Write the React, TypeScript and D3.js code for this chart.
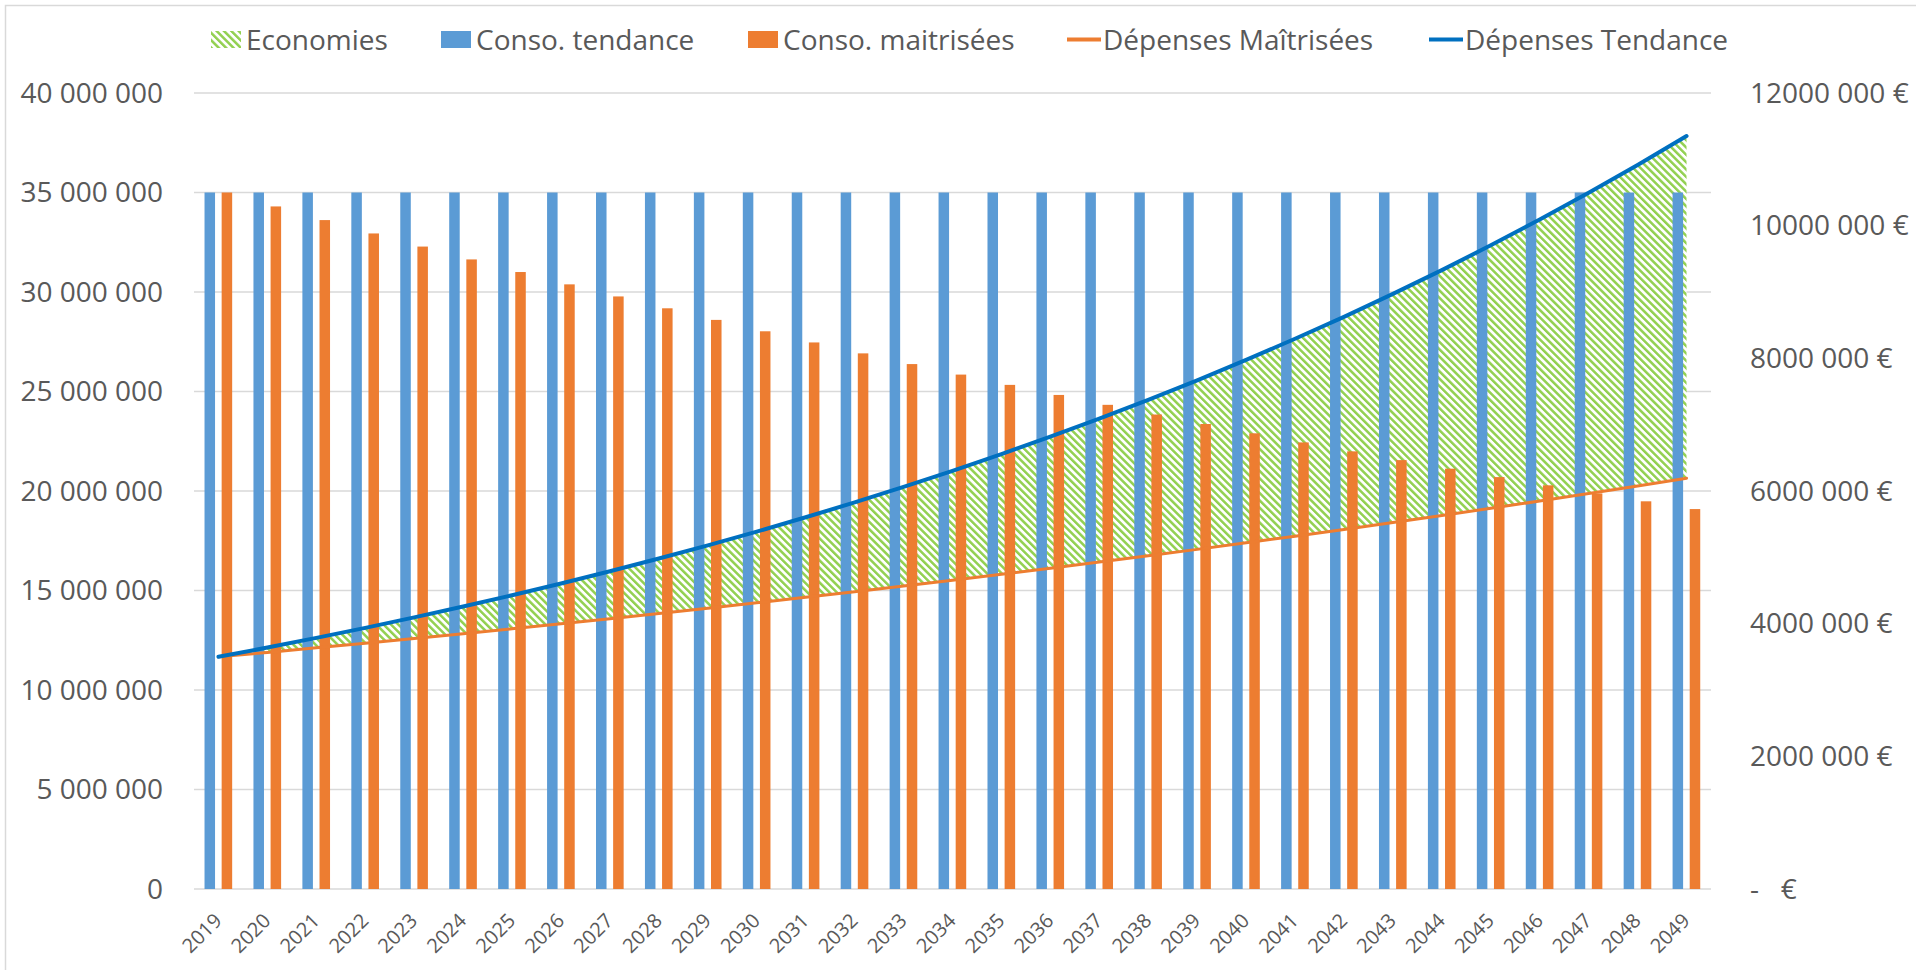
import * as d3 from "d3";

// categories
const years = [
  "2019", "2020", "2021", "2022", "2023", "2024", "2025", "2026", "2027", "2028",
  "2029", "2030", "2031", "2032", "2033", "2034", "2035", "2036", "2037", "2038",
  "2039", "2040", "2041", "2042", "2043", "2044", "2045", "2046", "2047", "2048", "2049",
];

// bars, left axis
const consoTendance = [
  35000000, 35000000, 35000000, 35000000, 35000000, 35000000, 35000000, 35000000,
  35000000, 35000000, 35000000, 35000000, 35000000, 35000000, 35000000, 35000000,
  35000000, 35000000, 35000000, 35000000, 35000000, 35000000, 35000000, 35000000,
  35000000, 35000000, 35000000, 35000000, 35000000, 35000000, 35000000,
];
const consoMaitrisees = [
  35000000, 34300000, 33614000, 32942000, 32283000, 31637000, 31004000, 30384000,
  29777000, 29181000, 28598000, 28026000, 27465000, 26916000, 26378000, 25850000,
  25333000, 24827000, 24330000, 23843000, 23367000, 22899000, 22441000, 21992000,
  21552000, 21121000, 20699000, 20285000, 19879000, 19482000, 19092000,
];

// lines, right axis
const depensesTendance = [
  3500000, 3640000, 3786000, 3937000, 4095000, 4258000, 4429000, 4606000,
  4790000, 4982000, 5181000, 5388000, 5604000, 5828000, 6061000, 6303000,
  6556000, 6818000, 7090000, 7374000, 7669000, 7976000, 8295000, 8626000,
  8972000, 9330000, 9704000, 10092000, 10495000, 10915000, 11352000,
];
const depensesMaitrisees = [
  3500000, 3567000, 3636000, 3706000, 3777000, 3849000, 3923000, 3998000,
  4075000, 4154000, 4233000, 4314000, 4397000, 4482000, 4568000, 4655000,
  4745000, 4836000, 4928000, 5023000, 5120000, 5219000, 5319000, 5420000,
  5525000, 5631000, 5739000, 5849000, 5961000, 6075000, 6193000,
];

const leftTicks = [0, 5000000, 10000000, 15000000, 20000000, 25000000, 30000000, 35000000, 40000000];
const rightTicks = [0, 2000000, 4000000, 6000000, 8000000, 10000000, 12000000];

const legendLabels = ["Economies", "Conso. tendance", "Conso. maitrisées", "Dépenses Maîtrisées", "Dépenses Tendance"];
const legendX = [211, 441, 748, 1067, 1429];

const W = 1916;
const H = 970;
const plot = { left: 194, right: 1711, top: 93, bottom: 889 };
const FONT = "'Open Sans', sans-serif";
const TXT = "#595959";
const GRID = "#d9d9d9";
const BLUE_BAR = "#5b9bd5";
const ORANGE = "#ed7d31";
const BLUE_LINE = "#0070c0";
const GREEN = "#92d050";

const fmtLeft = (v: number) => d3.format(",")(v).replace(/,/g, " ");
const fmtRight = (v: number) => {
  if (v === 0) return "-   €";
  const k = Math.floor(v / 1000);
  return `${k} ${String(v % 1000).padStart(3, "0")} €`;
};

export default function App() {
  const x = d3.scaleBand<string>().domain(years).range([plot.left, plot.right]);
  const yL = d3.scaleLinear().domain([0, 40000000]).range([plot.bottom, plot.top]);
  const yR = d3.scaleLinear().domain([0, 12000000]).range([plot.bottom, plot.top]);
  const bw = x.bandwidth();
  const cx = (i: number) => (x(years[i]) as number) + bw / 2;

  const lineFn = d3
    .line<number>()
    .x((_, i) => cx(i))
    .y((d) => yR(d));
  const areaFn = d3
    .area<number>()
    .x((_, i) => cx(i))
    .y0((_, i) => yR(depensesMaitrisees[i]))
    .y1((d) => yR(d));

  const barW = bw * 0.215;

  return (
    <svg
      width={W}
      height={H}
      style={{ position: "absolute", left: 0, top: 0, display: "block", background: "#fff" }}
      fontFamily={FONT}
    >
      <defs>
        <pattern id="hatch" patternUnits="userSpaceOnUse" width={5.2} height={5.2} patternTransform="rotate(-45)">
          <rect width={5.2} height={5.2} fill="#fff" />
          <rect width={2.5} height={5.2} fill={GREEN} />
        </pattern>
      </defs>

      <rect x={5.5} y={5.5} width={W + 10} height={H + 10} fill="none" stroke={GRID} strokeWidth={1.5} />

      {/* gridlines */}
      {leftTicks.map((t) => (
        <line key={t} x1={plot.left} x2={plot.right} y1={yL(t)} y2={yL(t)} stroke={GRID} strokeWidth={1.5} />
      ))}

      {/* economies area */}
      <path d={areaFn(depensesTendance) || ""} fill="url(#hatch)" />

      {/* bars */}
      {years.map((yr, i) => (
        <g key={yr}>
          <rect
            x={(x(yr) as number) + bw * 0.215}
            y={yL(consoTendance[i])}
            width={barW}
            height={yL(0) - yL(consoTendance[i])}
            fill={BLUE_BAR}
          />
          <rect
            x={(x(yr) as number) + bw * 0.565}
            y={yL(consoMaitrisees[i])}
            width={barW}
            height={yL(0) - yL(consoMaitrisees[i])}
            fill={ORANGE}
          />
        </g>
      ))}

      {/* lines */}
      <path d={lineFn(depensesMaitrisees) || ""} fill="none" stroke={ORANGE} strokeWidth={3} strokeLinecap="round" />
      <path d={lineFn(depensesTendance) || ""} fill="none" stroke={BLUE_LINE} strokeWidth={4} strokeLinecap="round" />

      {/* left axis labels */}
      {leftTicks.map((t) => (
        <text key={t} x={163} y={yL(t)} dy="0.35em" textAnchor="end" fontSize={28} fill={TXT}>
          {fmtLeft(t)}
        </text>
      ))}

      {/* right axis labels */}
      {rightTicks.map((t) => (
        <text key={t} x={1750} y={yR(t)} dy="0.35em" textAnchor="start" fontSize={28} fill={TXT} style={{ whiteSpace: "pre" }}>
          {fmtRight(t)}
        </text>
      ))}

      {/* x labels */}
      {years.map((yr, i) => (
        <text
          key={yr}
          transform={`translate(${cx(i) + 4.5},922) rotate(-45)`}
          textAnchor="end"
          fontSize={20}
          fill={TXT}
        >
          {yr}
        </text>
      ))}

      {/* legend */}
      {legendLabels.map((lab, i) => {
        const lx = legendX[i];
        let swatch;
        if (i === 0) swatch = <rect x={lx} y={31} width={30} height={17} fill="url(#hatch)" />;
        else if (i === 1) swatch = <rect x={lx} y={31} width={30} height={17} fill={BLUE_BAR} />;
        else if (i === 2) swatch = <rect x={lx} y={31} width={30} height={17} fill={ORANGE} />;
        else
          swatch = (
            <line x1={lx} x2={lx + 34} y1={39.5} y2={39.5} stroke={i === 3 ? ORANGE : BLUE_LINE} strokeWidth={4} />
          );
        const tx = i < 3 ? lx + 35 : lx + 36;
        return (
          <g key={lab}>
            {swatch}
            <text x={tx} y={40} dy="0.35em" fontSize={28} fill={TXT}>
              {lab}
            </text>
          </g>
        );
      })}
    </svg>
  );
}
